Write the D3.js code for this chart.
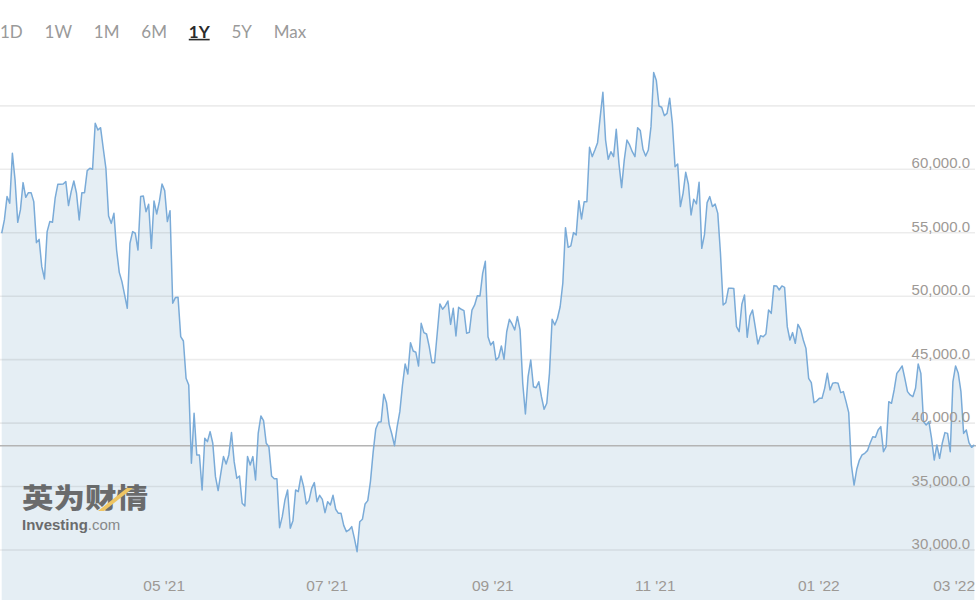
<!DOCTYPE html>
<html><head><meta charset="utf-8">
<script src="https://cdn.jsdelivr.net/npm/d3@7"></script>
<style>
html,body{margin:0;padding:0;background:#fff;}
svg{display:block;}
</style></head>
<body>
<svg id="chart" width="976" height="600"></svg>
<script>
// ---------- data ----------
const startDate = "2021-03-09";   // first daily close shown
const prices = [
 54960,56010,57850,57320,61260,59160,55820,56800,58950,57790,
 58160,58160,57450,54220,54480,52330,51360,55090,55880,55820,
 57720,58820,58820,58840,59030,57140,58240,59080,58110,56010,
 58160,58160,59900,60080,60000,63630,63100,63280,61660,60080,
 56320,55740,56530,53640,51880,51150,50100,49050,54170,55090,
 54960,53640,57850,57900,56660,57240,53770,57500,56480,57450,
 58840,58320,55880,56740,49440,49890,49910,46810,46470,43530,
 43000,36830,40770,37490,37490,34730,38800,38540,39330,38410,
 35780,34680,36040,37360,36780,37490,39250,36960,35650,35830,
 33680,33470,
 37360,36700,37360,35520,39190,40560,40190,38410,38140,35830,
 35620,35620,31760,32630,33940,34730,31710,32310,34730,34600,
 35830,34990,33630,33890,34860,35310,33810,34310,33990,32940,
 33810,33550,34310,33210,32890,32890,31940,31450,31580,31840,
 30920,29870,32230,32420,33630,33890,35390,37670,39540,40060,
 40110,42270,41610,39900,39140,38220,39720,40900,43000,44660,
 43870,46340,45680,45580,44500,47860,47130,47020,46020,44760,
 44760,47080,49390,48970,49230,49620,47780,49050,46870,49120,
 48970,48860,47080,47150,48910,49310,50040,50020,51800,52750,
 46810,46150,46420,44970,45190,46080,45030,47200,48180,47810,
 47340,48390,47340,43140,40720,43660,44970,42870,42790,43260,
 42080,41090,41560,43920,48180,47730,48260,49170,51020,
 55400,53850,53960,55010,54830,57530,56090,57450,57450,61730,
 61000,61520,62100,64150,66070,62310,60790,61390,61000,63150,
 60470,58560,60740,62310,61920,61390,61000,63280,63050,61580,
 61050,61520,63360,67620,66990,64990,64890,64230,64410,65600,
 63630,60210,60420,57060,58110,59760,58820,56400,57640,57270,
 58980,53770,54830,57370,57850,57060,57270,56530,53380,49310,
 49490,50620,50620,
 50600,47600,47210,49360,50100,46760,48440,48910,47600,46240,
 46890,46810,47020,48910,48650,50830,50810,50490,50810,50700,
 47600,46550,47130,46290,47780,47390,46550,45890,43530,43190,
 41610,41740,41950,41950,42740,43920,42610,43140,43190,43140,
 42400,42480,41690,40820,36700,35120,36360,37090,37490,37620,
 37830,38410,38930,38880,39460,39720,37750,38140,41690,41560,
 42610,43920,44190,44500,43530,42480,42220,42080,42740,44660,
 43920,40110,39850,40110,38800,37090,38280,37220,38410,39250,
 39190,37750,43270,44500,43920,42480,39190,39460,38460,38090,
 38280
];
const currentPrice = 38220;
const gridTicks = [30000,35000,40000,45000,50000,55000,60000,65000];
const yLabelTicks = [30000,35000,40000,45000,50000,55000,60000];
const xTickDates = ["2021-05-01","2021-07-01","2021-09-01","2021-11-01","2022-01-01","2022-03-01"];
const ranges = ["1D","1W","1M","6M","1Y","5Y","Max"];
const activeRange = "1Y";

// ---------- layout ----------
const W = 976, H = 600;
const svg = d3.select("#chart");
const parse = d3.utcParse("%Y-%m-%d");
const t0 = parse(startDate);
const data = prices.map((v, i) => ({date: d3.utcDay.offset(t0, i), value: v}));

const x = d3.scaleUtc().domain(d3.extent(data, d => d.date)).range([1.7, 974.3]);
const y = d3.scaleLinear().domain([30000, 65000]).range([550, 105.85]);

// area
const area = d3.area().x(d => x(d.date)).y0(H).y1(d => y(d.value));
svg.append("path").datum(data).attr("d", area).attr("fill", "#e5eef4");

// gridlines
svg.append("g").selectAll("line").data(gridTicks).join("line")
  .attr("x1", 0).attr("x2", 975)
  .attr("y1", d => y(d)).attr("y2", d => y(d))
  .attr("stroke", "rgba(0,0,0,0.075)").attr("stroke-width", 1.6);

// current price line
svg.append("line").attr("x1", 0).attr("x2", W)
  .attr("y1", y(currentPrice)).attr("y2", y(currentPrice))
  .attr("stroke", "#b4b4b4").attr("stroke-width", 1.5);

// price line
const line = d3.line().x(d => x(d.date)).y(d => y(d.value));
svg.append("path").datum(data).attr("d", line)
  .attr("fill", "none").attr("stroke", "#7aabd8").attr("stroke-width", 1.5)
  .attr("stroke-linejoin", "round");

// y labels
svg.append("g").selectAll("text").data(yLabelTicks).join("text")
  .attr("x", 970).attr("y", d => y(d) - 1)
  .attr("text-anchor", "end")
  .attr("font-family", "Liberation Sans, Arial, sans-serif")
  .attr("font-size", 15).attr("fill", "#9d9995")
  .text(d => d3.format(",.1f")(d));

// x labels
const fmt = d3.utcFormat("%m '%y");
const xg = svg.append("g");
xTickDates.forEach(s => {
  const dt = parse(s);
  const t = xg.append("text")
    .attr("y", 591)
    .attr("font-family", "Liberation Sans, Arial, sans-serif")
    .attr("font-size", 15.5).attr("fill", "#9d9995")
    .text(fmt(dt));
  const w = t.node().getComputedTextLength();
  let px = x(dt);
  if (px + w > 975) px = 975 - w;
  t.attr("x", px);
});

// range buttons
const bg = svg.append("g");
let bx = 0;
ranges.forEach(r => {
  const act = r === activeRange;
  const t = bg.append("text").attr("x", bx).attr("y", 38)
    .attr("font-family", "Lato, sans-serif").attr("font-size", 17)
    .attr("font-weight", act ? 700 : 400)
    .attr("fill", act ? "#2a2a2a" : "#9a9a9a").text(r);
  const w = t.node().getComputedTextLength();
  if (act) {
    bg.append("rect").attr("x", bx).attr("y", 38.8).attr("width", w).attr("height", 1.6).attr("fill", "#2a2a2a");
  }
  bx += w + 21.8;
});

// watermark
const wm = svg.append("g").attr("opacity", 0.85);
wm.append("text").attr("x", 22).attr("y", 508)
  .attr("font-family", "Noto Sans CJK SC, sans-serif").attr("font-weight", 900)
  .attr("font-size", 27).attr("fill", "#555")
  .attr("textLength", 126).attr("lengthAdjust", "spacingAndGlyphs")
  .text("英为财情");
wm.append("path").attr("d", "M98,511 L104,511 L133,488 L127,488 Z").attr("fill", "#f0bf4a");
const inv = wm.append("text").attr("x", 22).attr("y", 530)
  .attr("font-family", "Liberation Sans, Arial, sans-serif").attr("font-size", 15)
  .attr("fill", "#555");
inv.append("tspan").attr("font-weight", 700).text("Investing");
inv.append("tspan").attr("fill", "#777").text(".com");
</script>
</body></html>
